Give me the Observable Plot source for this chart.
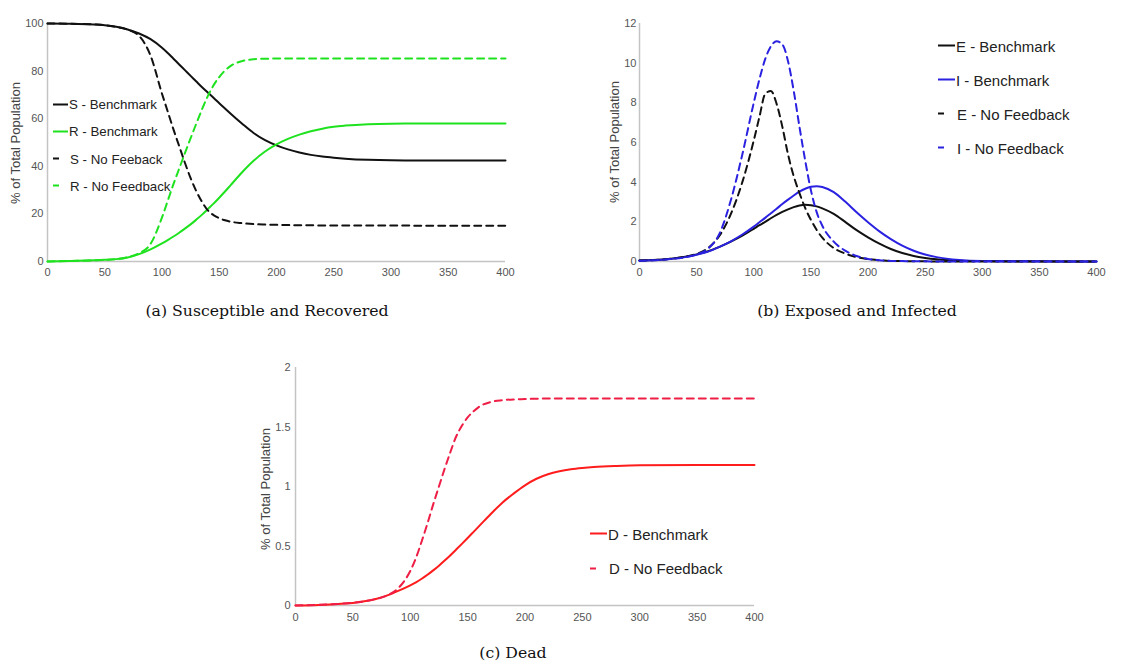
<!DOCTYPE html>
<html>
<head>
<meta charset="utf-8">
<script src="https://cdn.jsdelivr.net/npm/d3@7"></script>
<script src="https://cdn.jsdelivr.net/npm/@observablehq/plot@0.6"></script>
<style>
  html, body { margin: 0; padding: 0; background: #fff; }
  #root { position: relative; width: 1121px; height: 666px; overflow: hidden; background: #fff; font-family: "Liberation Sans", Arial, sans-serif; }
  #root svg.plot { position: absolute; }
  .ylab { position: absolute; transform: translate(-50%, -50%) rotate(-90deg); white-space: nowrap; font-size: 13px; color: #444; }
  .cap { position: absolute; transform: translate(-50%, -50%); white-space: nowrap; font-family: "DejaVu Serif", "Liberation Serif", serif; font-size: 15.7px; color: #111; }
  .legend { position: absolute; }
  .legend .item { position: absolute; left: 0; display: flex; align-items: center; white-space: nowrap; color: #222; transform: translateY(-50%); }
  .legend .item svg { display: block; flex: none; }
</style>
</head>
<body>
<div id="root"></div>
<script>
// ---------- data ----------
const days = [0,20,40,50,60,70,80,90,100,105,110,115,120,125,130,135,140,145,150,155,160,170,180,190,200,210,220,230,240,250,260,280,300,350,400];

// (a) Susceptible and Recovered, % of total population
const sBench = [100,99.9,99.6,99.3,98.6,97.5,95.8,93.4,89.8,87.6,85.2,82.8,80.4,78,75.6,73.2,71,68.8,66.5,64.3,62.1,57.9,54,51,48.8,47.1,45.8,44.8,44.1,43.6,43.2,42.7,42.5,42.4,42.4];
const rBench = [0,0.2,0.5,0.7,1.0,1.7,3.1,5.1,7.6,9.0,10.5,12.1,13.8,15.6,17.6,19.7,22,24.3,26.8,29.4,32.1,37.5,42.3,46.2,49.2,51.5,53.3,54.7,55.8,56.6,57.1,57.7,57.9,58,58];
const sNoFb  = [100,99.9,99.6,99.3,98.6,97.4,94.8,86.5,70.5,63,55.5,48.5,41.5,35,29.5,25,21.5,19.5,18.2,17.3,16.7,16.1,15.7,15.5,15.4,15.3,15.2,15.2,15.1,15.1,15.1,15.1,15.1,15,15];
const rNoFb  = [0,0.2,0.5,0.7,1.0,1.8,3.5,7.4,18.5,25.5,32.5,39,45.5,51.8,58,64,69.5,74,77.5,80.2,82.2,84.2,85,85.2,85.3,85.3,85.3,85.3,85.3,85.3,85.3,85.3,85.3,85.3,85.3];

// (b) Exposed and Infected
const eBench = [0.05,0.1,0.24,0.36,0.52,0.74,1.0,1.3,1.65,1.83,2.0,2.18,2.35,2.5,2.63,2.74,2.82,2.86,2.84,2.78,2.68,2.4,2.0,1.58,1.22,0.9,0.63,0.43,0.28,0.18,0.11,0.04,0.02,0.01,0];
const iBench = [0.04,0.09,0.22,0.34,0.5,0.74,1.02,1.36,1.76,1.98,2.2,2.43,2.66,2.9,3.12,3.33,3.52,3.67,3.77,3.8,3.76,3.5,3.02,2.48,1.98,1.52,1.13,0.8,0.54,0.35,0.22,0.08,0.03,0.01,0];
const eNoFb  = [0.05,0.1,0.24,0.38,0.68,1.3,2.4,4.0,6.1,7.3,8.45,8.6,7.95,6.8,5.4,4.3,3.45,2.7,2.1,1.6,1.2,0.68,0.4,0.22,0.12,0.06,0.03,0.02,0.01,0.01,0,0,0,0,0];
const iNoFb  = [0.04,0.09,0.22,0.36,0.65,1.4,3.1,5.4,8.0,9.2,10.2,10.85,11.1,10.95,10.1,8.6,6.8,5.1,3.6,2.5,1.8,1.0,0.55,0.28,0.13,0.06,0.03,0.02,0.01,0.01,0,0,0,0,0];

// (c) Dead
const dBench = [0,0.005,0.015,0.022,0.035,0.055,0.085,0.125,0.17,0.195,0.225,0.258,0.295,0.335,0.378,0.423,0.47,0.518,0.567,0.617,0.667,0.767,0.862,0.94,1.01,1.065,1.103,1.128,1.145,1.156,1.164,1.173,1.178,1.18,1.18];
const dNoFb  = [0,0.005,0.015,0.022,0.035,0.055,0.085,0.15,0.29,0.4,0.54,0.69,0.85,1.0,1.15,1.29,1.42,1.51,1.58,1.63,1.67,1.71,1.725,1.732,1.735,1.738,1.74,1.74,1.74,1.74,1.74,1.74,1.74,1.74,1.74];

// ticks & labels
const xTicks = [0,50,100,150,200,250,300,350,400];
const yTicksA = [0,20,40,60,80,100];
const yTicksB = [0,2,4,6,8,10,12];
const yTicksC = [0,0.5,1,1.5,2];
const yLabel = "% of Total Population";
const legendA = ["S - Benchmark","R - Benchmark","S - No Feeback","R - No Feedback"];
const legendB = ["E - Benchmark","I - Benchmark","E - No Feedback","I - No Feedback"];
const legendC = ["D - Benchmark","D - No Feedback"];
const captions = ["(a) Susceptible and Recovered","(b) Exposed and Infected","(c) Dead"];

// ---------- styles ----------
const BLACK = "#111", GREEN = "#1fe21f", BLUE = "#2a22e0", RED = "#ff1c1c", RED2 = "#ee1e46";
const DASH = "7,5";

const root = document.getElementById("root");

function panel(cfg) {
  const rows = cfg.series.flatMap(s => days.map((d, i) => ({day: d, value: s.values[i], name: s.name})));
  const marks = [
    Plot.ruleY([0], {stroke: "#c4c4c4", strokeWidth: 1.5}),
    Plot.ruleX([0], {stroke: "#c4c4c4", strokeWidth: 1.5}),
    ...cfg.series.map(s => Plot.line(rows.filter(r => r.name === s.name), {
      x: "day", y: "value", stroke: s.color, strokeWidth: 2,
      strokeDasharray: s.dash ? DASH : null, curve: "monotone-x"
    })),
    Plot.axisX({ticks: xTicks, tickSize: 0, tickPadding: cfg.xPad, tickFormat: d => String(d), label: null, fill: "#555"}),
    Plot.axisY({ticks: cfg.yTicks, tickSize: 0, tickPadding: cfg.yPad, tickFormat: d => String(d), label: null, fill: "#555"})
  ];
  const svg = Plot.plot({
    width: cfg.width, height: cfg.height,
    marginLeft: cfg.ml, marginRight: cfg.mr, marginTop: cfg.mt, marginBottom: cfg.mb,
    x: {domain: [0, 400]},
    y: {domain: cfg.yDomain},
    style: {fontFamily: "Liberation Sans, Arial, sans-serif", fontSize: "11px", background: "transparent", overflow: "visible"},
    marks
  });
  svg.classList.add("plot");
  svg.style.left = cfg.left + "px";
  svg.style.top = cfg.top + "px";
  root.appendChild(svg);

  const yl = document.createElement("div");
  yl.className = "ylab";
  yl.textContent = yLabel;
  yl.style.left = cfg.ylx + "px";
  yl.style.top = cfg.yly + "px";
  root.appendChild(yl);

  const cap = document.createElement("div");
  cap.className = "cap";
  cap.textContent = cfg.caption;
  cap.style.left = cfg.capx + "px";
  cap.style.top = cfg.capy + "px";
  root.appendChild(cap);

  const lg = document.createElement("div");
  lg.className = "legend";
  lg.style.left = cfg.lg.x + "px";
  lg.style.top = cfg.lg.y + "px";
  cfg.series.forEach((s, i) => {
    const it = document.createElement("div");
    it.className = "item";
    it.style.top = (i * cfg.lg.step) + "px";
    it.style.fontSize = cfg.lg.font + "px";
    const sw = cfg.lg.sw;
    it.innerHTML = `<svg width="${sw}" height="10"><line x1="0" x2="${sw}" y1="5" y2="5" stroke="${s.color}" stroke-width="2" ${s.dash ? `stroke-dasharray="6,40"` : ""}/></svg><span style="margin-left:${s.dash ? 2 : 1}px">${s.label}</span>`;
    lg.appendChild(it);
  });
  root.appendChild(lg);
}

panel({
  left: 0, top: 0, width: 530, height: 300, ml: 47, mr: 25, mt: 23, mb: 39,
  yDomain: [0, 100], yTicks: yTicksA, xPad: 7, yPad: 4,
  ylx: 15, yly: 143, caption: captions[0], capx: 267, capy: 310,
  lg: {x: 53, y: 104, step: 27.3, font: 13.3, sw: 15},
  series: [
    {name: "sb", values: sBench, color: BLACK, dash: false, label: legendA[0]},
    {name: "rb", values: rBench, color: GREEN, dash: false, label: legendA[1]},
    {name: "sn", values: sNoFb, color: BLACK, dash: true, label: legendA[2]},
    {name: "rn", values: rNoFb, color: GREEN, dash: true, label: legendA[3]}
  ]
});

panel({
  left: 560, top: 0, width: 561, height: 300, ml: 79, mr: 25, mt: 23, mb: 39,
  yDomain: [0, 12], yTicks: yTicksB, xPad: 7, yPad: 3,
  ylx: 614, yly: 142, caption: captions[1], capx: 857, capy: 310,
  lg: {x: 938, y: 45.5, step: 34, font: 15, sw: 17},
  series: [
    {name: "eb", values: eBench, color: BLACK, dash: false, label: legendB[0]},
    {name: "ib", values: iBench, color: BLUE, dash: false, label: legendB[1]},
    {name: "en", values: eNoFb, color: BLACK, dash: true, label: legendB[2]},
    {name: "in", values: iNoFb, color: BLUE, dash: true, label: legendB[3]}
  ]
});

panel({
  left: 230, top: 340, width: 560, height: 300, ml: 65, mr: 36, mt: 27, mb: 35,
  yDomain: [0, 2], yTicks: yTicksC, xPad: 8, yPad: 5,
  ylx: 265, yly: 489, caption: captions[2], capx: 513, capy: 652,
  lg: {x: 590, y: 533.5, step: 34.5, font: 15, sw: 17},
  series: [
    {name: "db", values: dBench, color: RED, dash: false, label: legendC[0]},
    {name: "dn", values: dNoFb, color: RED2, dash: true, label: legendC[1]}
  ]
});
</script>
</body>
</html>
